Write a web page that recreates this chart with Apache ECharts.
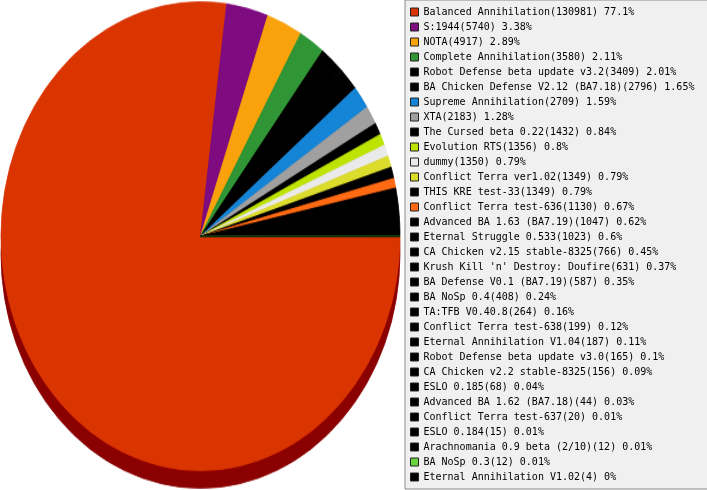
<!DOCTYPE html>
<html lang="en">
<head>
    <meta charset="UTF-8">
    <title>Mod usage</title>
    <script type="text/javascript" src="https://cdn.jsdelivr.net/npm/echarts@6/dist/echarts.min.js"></script>
    <style>
        body { margin:0; background:#fff; }
        #wrap { position:relative; width:707px; height:490px; overflow:hidden; }
        /* pie is drawn round, then stretched vertically to get the oval look */
        #pie { position:absolute; left:0; top:0; width:402px; height:418px; transform:scaleY(1.175); transform-origin:0 0; }
        #leg { position:absolute; left:0; top:0; width:707px; height:490px; }
    </style>
</head>
<body>
<div id="wrap">
    <div id="pie"></div>
    <div id="leg"></div>
</div>
<script type="text/javascript">
    // data
    var names = [
        'Balanced Annihilation', 'S:1944', 'NOTA', 'Complete Annihilation',
        'Robot Defense beta update v3.2', 'BA Chicken Defense V2.12 (BA7.18)',
        'Supreme Annihilation', 'XTA', 'The Cursed beta 0.22', 'Evolution RTS',
        'dummy', 'Conflict Terra ver1.02', 'THIS KRE test-33', 'Conflict Terra test-636',
        'Advanced BA 1.63 (BA7.19)', 'Eternal Struggle 0.533', 'CA Chicken v2.15 stable-8325',
        "Krush Kill 'n' Destroy: Doufire", 'BA Defense V0.1 (BA7.19)', 'BA NoSp 0.4',
        'TA:TFB V0.40.8', 'Conflict Terra test-638', 'Eternal Annihilation V1.04',
        'Robot Defense beta update v3.0', 'CA Chicken v2.2 stable-8325', 'ESLO 0.185',
        'Advanced BA 1.62 (BA7.18)', 'Conflict Terra test-637', 'ESLO 0.184',
        'Arachnomania 0.9 beta (2/10)', 'BA NoSp 0.3', 'Eternal Annihilation V1.02'
    ];
    var games = [
        130981, 5740, 4917, 3580,
        3409, 2796,
        2709, 2183, 1432, 1356,
        1350, 1349, 1349, 1130,
        1047, 1023, 766,
        631, 587, 408,
        264, 199, 187,
        165, 156, 68,
        44, 20, 15,
        12, 12, 4
    ];
    var colors = [
        '#da3400', '#7e0b80', '#f9a20b', '#2f9535',
        '#000000', '#000000',
        '#1484d6', '#a0a0a0', '#000000', '#bde300',
        '#eaeaea', '#dcdc2c', '#000000', '#ff6a12',
        '#000000', '#000000', '#000000',
        '#000000', '#000000', '#000000',
        '#000000', '#000000', '#000000',
        '#000000', '#000000', '#000000',
        '#000000', '#000000', '#000000',
        '#000000', '#66d43a', '#000000'
    ];
    var rimColor = '#8b0000';

    var total = 0;
    for (var i = 0; i < games.length; i++) total += games[i];

    var topData = [], rimData = [], lookup = {};
    for (var i = 0; i < names.length; i++) {
        // border in the slice's own colour hides the seams between slices
        topData.push({ name: names[i], value: games[i], itemStyle: { color: colors[i], borderColor: colors[i], borderWidth: 0.8 } });
        rimData.push({ name: names[i], value: games[i], itemStyle: { color: rimColor, borderColor: rimColor, borderWidth: 0.8 } });
        lookup[names[i]] = games[i];
    }

    var pieChart = echarts.init(document.getElementById('pie'));
    pieChart.setOption({
        animation: false,
        series: [
            {   // the dark side of the disc, shifted down
                type: 'pie',
                silent: true,
                center: [200.5, 216],
                radius: 199.5,
                startAngle: 0,
                clockwise: true,
                z: 1,
                label: { show: false },
                labelLine: { show: false },
                data: rimData
            },
            {
                type: 'pie',
                silent: true,
                center: [200.5, 201],
                radius: 199.5,
                startAngle: 0,
                clockwise: true,
                z: 2,
                label: { show: false },
                labelLine: { show: false },
                data: topData
            }
        ]
    });

    var legChart = echarts.init(document.getElementById('leg'));
    legChart.setOption({
        animation: false,
        legend: {
            orient: 'vertical',
            left: 405,
            top: 0,
            padding: [7, 60, 7, 5],
            itemGap: 5,
            itemWidth: 8,
            itemHeight: 8,
            icon: 'rect',
            selectedMode: false,
            backgroundColor: '#f0f0f0',
            borderColor: '#8a8a8a',
            borderWidth: 1,
            itemStyle: { borderColor: '#222', borderWidth: 1 },
            textStyle: { fontFamily: 'DejaVu Sans Mono', fontSize: 10, lineHeight: 10, color: '#000' },
            formatter: function (name) {
                var v = lookup[name];
                var p = parseFloat((v / total * 100).toFixed(2));
                return name + '(' + v + ') ' + p + '%';
            },
            data: names
        },
        series: [{
            type: 'pie',
            silent: true,
            radius: [0, 0],
            center: [-50, -50],
            label: { show: false },
            labelLine: { show: false },
            data: topData
        }]
    });
</script>
</body>
</html>
